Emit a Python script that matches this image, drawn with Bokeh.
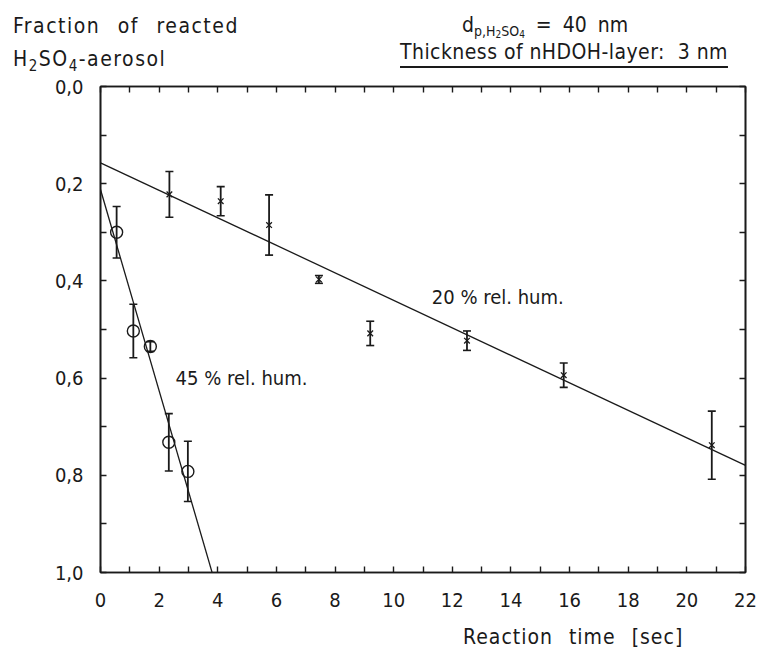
from bokeh.plotting import figure
from bokeh.models import (Range1d, LinearAxis, FixedTicker, Whisker, ColumnDataSource,
                          Label, TeeHead, CustomJSTickFormatter, Div)
from bokeh.layouts import column
from bokeh.embed import file_html
from bokeh.resources import INLINE
import numpy as np

# ---------------- data ----------------
time_20 = [2.35, 4.10, 5.75, 7.45, 9.20, 12.50, 15.80, 20.85]
frac_20 = [0.222, 0.236, 0.285, 0.397, 0.508, 0.523, 0.594, 0.738]
err_20 = [0.047, 0.030, 0.062, 0.008, 0.025, 0.020, 0.025, 0.070]

time_45 = [0.55, 1.12, 1.70, 2.33, 2.98]
frac_45 = [0.300, 0.503, 0.535, 0.732, 0.792]
err_45 = [0.053, 0.055, 0.010, 0.059, 0.062]

# fitted lines: intercept, slope
fit_20 = [0.157, 0.0283]
fit_45 = [0.212, 0.207]

x_ticks = [0, 2, 4, 6, 8, 10, 12, 14, 16, 18, 20, 22]
x_minor = [1, 3, 5, 7, 9, 11, 13, 15, 17, 19, 21]
y_ticks = [0.0, 0.2, 0.4, 0.6, 0.8, 1.0]
y_minor = [0.1, 0.3, 0.5, 0.7, 0.9]

FONT = "DejaVu Sans Condensed, DejaVu Sans"
FONT_CSS = "'DejaVu Sans Condensed','DejaVu Sans',sans-serif"
INK = "#1a1a1a"

p = figure(width=762, height=546, x_range=Range1d(0, 22), y_range=Range1d(1.0, 0.0),
           output_backend="svg", toolbar_location=None,
           min_border_left=100, min_border_right=17, min_border_top=10, min_border_bottom=50)
p.grid.visible = False
p.outline_line_color = INK
p.outline_line_width = 1.6
p.background_fill_color = "white"
p.border_fill_color = "white"

fmt = CustomJSTickFormatter(code="return tick.toFixed(1).replace('.', ',');")
blank = CustomJSTickFormatter(code="return '';")


def style_axis(ax, labels=True):
    ax.axis_line_color = INK
    ax.axis_line_width = 1.6
    ax.major_tick_in = 6
    ax.major_tick_out = 0
    ax.minor_tick_in = 6
    ax.minor_tick_out = 0
    ax.major_tick_line_color = INK
    ax.minor_tick_line_color = INK
    ax.major_tick_line_width = 1.4
    ax.minor_tick_line_width = 1.4
    ax.major_label_text_font = FONT
    ax.major_label_text_font_size = "20px"
    ax.major_label_text_color = INK
    if not labels:
        ax.formatter = blank
        ax.major_label_text_font_size = "1px"
        ax.major_label_standoff = 0


xt = FixedTicker(ticks=x_ticks, minor_ticks=x_minor)
yt = FixedTicker(ticks=y_ticks, minor_ticks=y_minor)

p.xaxis.ticker = xt
p.yaxis.ticker = yt
p.yaxis.formatter = fmt
for ax in p.xaxis + p.yaxis:
    style_axis(ax)
p.xaxis.major_label_standoff = 20
p.yaxis.major_label_standoff = 17

top_ax = LinearAxis(ticker=xt)
right_ax = LinearAxis(ticker=yt)
style_axis(top_ax, labels=False)
style_axis(right_ax, labels=False)
p.add_layout(top_ax, "above")
p.add_layout(right_ax, "right")

# ---------------- fitted lines ----------------
xs = np.array([0.0, 22.0])
p.line(xs, fit_20[0] + fit_20[1] * xs, line_color=INK, line_width=1.3)
p.line(xs, fit_45[0] + fit_45[1] * xs, line_color=INK, line_width=1.3)

# ---------------- data with error bars ----------------
s20 = ColumnDataSource(dict(x=time_20, y=frac_20,
                            lo=[f - e for f, e in zip(frac_20, err_20)],
                            hi=[f + e for f, e in zip(frac_20, err_20)]))
s45 = ColumnDataSource(dict(x=time_45, y=frac_45,
                            lo=[f - e for f, e in zip(frac_45, err_45)],
                            hi=[f + e for f, e in zip(frac_45, err_45)]))

for src in (s20, s45):
    w = Whisker(base="x", upper="hi", lower="lo", source=src, dimension="height",
                line_color=INK, line_width=1.8,
                upper_head=TeeHead(size=8, line_color=INK, line_width=1.6),
                lower_head=TeeHead(size=8, line_color=INK, line_width=1.6))
    p.add_layout(w)

p.scatter("x", "y", source=s20, marker="x", size=8, line_color=INK, line_width=1.3)
p.scatter("x", "y", source=s45, marker="circle", size=12, fill_color=None,
          line_color=INK, line_width=1.4)

# ---------------- in-plot texts ----------------
for x, y, t in [(11.3, 0.434, "20 % rel. hum."), (2.56, 0.600, "45 % rel. hum.")]:
    p.add_layout(Label(x=x, y=y, text=t, text_font=FONT, text_font_size="20px",
                       text_color=INK, text_baseline="middle"))

# ---------------- header / footer texts ----------------
SPAN = "position:absolute;line-height:1;white-space:pre;"
SUB = "position:relative;top:5px;font-size:15px;"
SUB2 = "position:relative;top:2px;font-size:10px;letter-spacing:0;"
header_html = (
    f'<div style="position:relative;width:762px;height:76px;font-family:{FONT_CSS};color:{INK};">'
    f'<span style="{SPAN}left:13px;top:16px;font-size:21px;letter-spacing:1.5px;word-spacing:10px;">'
    'Fraction of reacted</span>'
    f'<span style="{SPAN}left:13px;top:49px;font-size:21px;letter-spacing:1.5px;">H<span style="{SUB}">2</span>SO'
    f'<span style="{SUB}">4</span>-aerosol</span>'
    f'<span style="{SPAN}left:462px;top:15px;font-size:21px;word-spacing:5px;">d'
    f'<span style="position:relative;top:4px;font-size:14px;">p,H<span style="{SUB2}">2</span>SO'
    f'<span style="{SUB2}">4</span></span> = 40 nm</span>'
    f'<span style="{SPAN}left:400px;top:42px;font-size:21px;letter-spacing:0.45px;text-decoration:underline;'
    f'text-decoration-thickness:1.5px;text-underline-offset:7px;">Thickness of nHDOH-layer:  3 nm</span>'
    '</div>'
)
footer_html = (
    f'<div style="position:relative;width:762px;height:30px;font-family:{FONT_CSS};color:{INK};">'
    f'<span style="{SPAN}left:463px;top:5px;font-size:21px;letter-spacing:1px;word-spacing:9px;">'
    'Reaction time [sec]</span>'
    '</div>'
)
header = Div(text=header_html, width=762, height=76, margin=0)
footer = Div(text=footer_html, width=762, height=30, margin=0)

layout = column(header, p, footer, spacing=0)

open("out.html", "w").write(file_html(layout, INLINE))
